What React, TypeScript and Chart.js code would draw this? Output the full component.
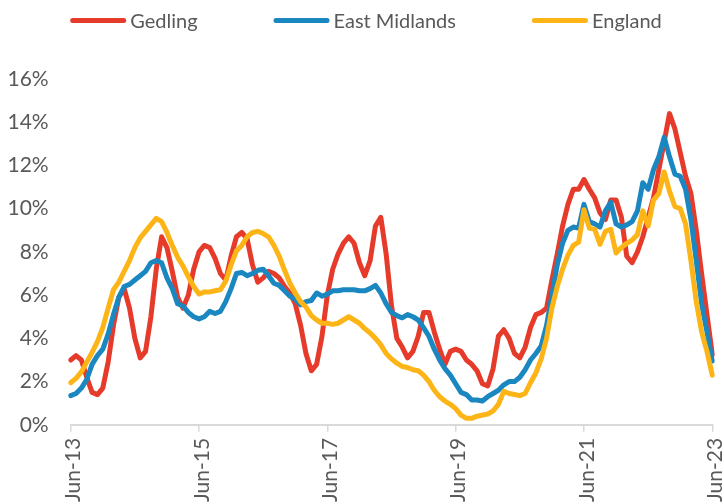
import React, { useEffect, useRef } from 'react';
import { Chart, registerables } from 'chart.js';

Chart.register(...registerables);

// ---- Data -------------------------------------------------------------
const MONTH_NAMES = ['Jan', 'Feb', 'Mar', 'Apr', 'May', 'Jun', 'Jul', 'Aug', 'Sep', 'Oct', 'Nov', 'Dec'];
const FIRST_YEAR = 2013;
const FIRST_MONTH = 5; // June
const MONTH_COUNT = 121; // Jun-13 .. Jun-23
const LABEL_EVERY = 24;

const categories: string[] = Array.from({ length: MONTH_COUNT }, (_, i) => {
  const m = (FIRST_MONTH + i) % 12;
  const y = FIRST_YEAR + Math.floor((FIRST_MONTH + i) / 12);
  return `${MONTH_NAMES[m]}-${String(y % 100).padStart(2, '0')}`;
});

const gedling = [
  3.0, 3.2, 3.0, 2.2, 1.5, 1.4, 1.7, 2.9, 4.6, 5.9, 6.3, 5.4,
  4.0, 3.1, 3.4, 5.0, 7.2, 8.7, 8.2, 7.1, 5.9, 5.4, 6.0, 7.2,
  8.0, 8.3, 8.2, 7.7, 7.0, 6.7, 7.8, 8.7, 8.9, 8.6, 7.4, 6.6,
  6.8, 7.1, 7.0, 6.8, 6.4, 6.1, 5.6, 4.6, 3.3, 2.5, 2.8, 4.1,
  6.0, 7.2, 7.9, 8.4, 8.7, 8.4, 7.5, 6.9, 7.6, 9.2, 9.6, 7.9,
  5.5, 4.0, 3.6, 3.1, 3.4, 4.1, 5.2, 5.2, 4.3, 3.5, 2.8, 3.4,
  3.5, 3.4, 3.0, 2.8, 2.5, 1.9, 1.8, 2.6, 4.1, 4.4, 4.0, 3.3,
  3.1, 3.6, 4.5, 5.1, 5.2, 5.4, 6.7, 7.9, 9.2, 10.2, 10.9, 10.9,
  11.35, 10.9, 10.5, 9.8, 9.5, 10.4, 10.4, 9.6, 7.8, 7.5, 8.0, 8.7,
  9.6, 10.5, 11.8, 13.1, 14.4, 13.7, 12.6, 11.5, 10.7, 9.0, 7.0, 5.1,
  3.25,
];

const eastMidlands = [
  1.35, 1.45, 1.7, 2.1, 2.8, 3.2, 3.5, 4.2, 5.1, 5.9, 6.4, 6.5,
  6.7, 6.9, 7.1, 7.5, 7.6, 7.5, 6.8, 6.3, 5.6, 5.5, 5.2, 5.0,
  4.9, 5.0, 5.25, 5.15, 5.25, 5.7, 6.3, 7.0, 7.05, 6.9, 7.0, 7.15,
  7.2, 6.9, 6.55, 6.45, 6.2, 5.95, 5.8, 5.55, 5.7, 5.75, 6.1, 5.95,
  6.05, 6.2, 6.2, 6.25, 6.25, 6.25, 6.2, 6.2, 6.3, 6.45, 6.1, 5.6,
  5.2, 5.05, 4.95, 5.1, 5.0, 4.85, 4.5, 4.1, 3.5, 3.0, 2.6, 2.3,
  1.9, 1.5, 1.4, 1.15, 1.15, 1.1, 1.3, 1.45, 1.6, 1.85, 2.0, 2.0,
  2.2, 2.55, 3.0, 3.3, 3.65, 4.6, 6.0, 7.4, 8.4, 9.0, 9.15, 9.1,
  10.2, 9.4, 9.3, 9.15, 9.9, 10.3, 9.3, 9.15, 9.25, 9.4, 9.9, 11.2,
  10.9, 11.8, 12.4, 13.3, 12.4, 11.6, 11.5, 10.9, 9.5, 7.6, 5.6, 4.3,
  2.95,
];

const england = [
  1.95, 2.15, 2.45, 2.9, 3.35, 3.85, 4.5, 5.4, 6.25, 6.6, 7.1, 7.6,
  8.2, 8.65, 8.95, 9.25, 9.55, 9.4, 8.9, 8.3, 7.75, 7.35, 6.85, 6.4,
  6.05, 6.15, 6.15, 6.2, 6.25, 6.65, 7.4, 8.05, 8.3, 8.7, 8.9, 8.95,
  8.85, 8.7, 8.3, 7.8, 7.15, 6.55, 6.1, 5.7, 5.45, 5.05, 4.85, 4.7,
  4.7, 4.65, 4.7, 4.85, 5.0, 4.85, 4.7, 4.45, 4.25, 4.0, 3.7, 3.3,
  3.05, 2.85, 2.7, 2.65, 2.55, 2.5, 2.3, 2.0, 1.6, 1.3, 1.1, 0.95,
  0.75, 0.45, 0.3, 0.3, 0.4, 0.45, 0.5, 0.65, 0.95, 1.55, 1.45, 1.4,
  1.35, 1.45, 1.95, 2.4, 3.05, 4.0, 5.4, 6.4, 7.2, 7.85, 8.3, 8.45,
  9.95, 9.1, 9.05, 8.35, 8.95, 9.05, 7.95, 8.2, 8.4, 8.55, 8.8, 9.9,
  9.2, 10.4, 10.7, 11.7, 10.8, 10.1, 10.0, 9.3, 7.6, 5.7, 4.3, 3.4,
  2.3,
];

const seriesNames = ['Gedling', 'East Midlands', 'England'];
const seriesColors = ['#E63A2B', '#1B87C0', '#FCB416'];
const Y_MIN = 0;
const Y_MAX = 16;
const Y_STEP = 2;

// ---- Styles -----------------------------------------------------------
const FONT_FAMILY = 'Lato, "Noto Sans", sans-serif';
const TEXT_COLOR = '#595959';
const AXIS_COLOR = '#D9D9D9';

// Custom legend: long rounded line markers, wide spacing (Excel-like)
const legendPlugin = {
  id: 'excelLegend',
  afterDraw(chart: any) {
    const ctx = chart.ctx as CanvasRenderingContext2D;
    const datasets = chart.data.datasets;
    const lineLen = 51;
    const lineW = 5;
    const textGap = 4;
    const itemGap = 76;
    const fontSize = 20;
    const cy = 20.5;
    ctx.save();
    ctx.font = `${fontSize}px ${FONT_FAMILY}`;
    const widths = datasets.map(
      (d: any) => lineW + lineLen + textGap + ctx.measureText(d.label).width
    );
    const total = widths.reduce((a: number, b: number) => a + b, 0) + itemGap * (datasets.length - 1);
    let x = (chart.width - total) / 2 + 4;
    datasets.forEach((d: any, i: number) => {
      ctx.strokeStyle = d.borderColor;
      ctx.lineWidth = lineW;
      ctx.lineCap = 'round';
      ctx.beginPath();
      ctx.moveTo(x + lineW / 2, cy);
      ctx.lineTo(x + lineW / 2 + lineLen, cy);
      ctx.stroke();
      ctx.fillStyle = TEXT_COLOR;
      ctx.textBaseline = 'middle';
      ctx.textAlign = 'left';
      ctx.fillText(d.label, x + lineLen + lineW + textGap, cy + 1);
      x += widths[i] + itemGap;
    });
    ctx.restore();
  },
};

export default function App() {
  const canvasRef = useRef<HTMLCanvasElement | null>(null);

  useEffect(() => {
    if (!canvasRef.current) return;
    const seriesData = [gedling, eastMidlands, england];
    const chart = new Chart(canvasRef.current, {
      type: 'line',
      data: {
        labels: categories,
        datasets: seriesNames.map((name, i) => ({
          label: name,
          data: seriesData[i],
          borderColor: seriesColors[i],
          backgroundColor: seriesColors[i],
          borderWidth: 5,
          pointRadius: 0,
          pointHoverRadius: 0,
          tension: 0,
          borderCapStyle: 'round' as const,
          borderJoinStyle: 'round' as const,
          order: seriesNames.length - i,
        })),
      },
      options: {
        animation: false,
        responsive: true,
        maintainAspectRatio: false,
        layout: { padding: { top: 79, left: 8, right: 0, bottom: 4 } },
        plugins: {
          legend: { display: false },
          tooltip: { enabled: false },
        },
        scales: {
          x: {
            type: 'category',
            offset: false,
            afterBuildTicks: (scale: any) => {
              scale.ticks = scale.ticks.filter((t: any) => t.value % LABEL_EVERY === 0);
            },
            afterFit: (scale: any) => {
              scale.paddingLeft = 0;
              scale.paddingRight = 11.7;
            },
            ticks: {
              autoSkip: false,
              minRotation: 90,
              maxRotation: 90,
              padding: 6,
              labelOffset: 3,
              color: TEXT_COLOR,
              font: { family: FONT_FAMILY, size: 21 },
              callback: function (this: any, value: any) {
                return this.getLabelForValue(value);
              },
            },
            grid: {
              display: true,
              drawOnChartArea: false,
              drawTicks: true,
              tickLength: 7,
              color: AXIS_COLOR,
              lineWidth: 1.5,
            },
            border: { display: true, color: AXIS_COLOR, width: 2 },
          },
          y: {
            min: Y_MIN,
            max: Y_MAX,
            afterFit: (scale: any) => {
              scale.paddingTop = 0;
              scale.width = 62.7;
            },
            ticks: {
              stepSize: Y_STEP,
              padding: 22,
              color: TEXT_COLOR,
              font: { family: FONT_FAMILY, size: 21 },
              callback: (v: any) => `${v}%`,
            },
            grid: { display: false, drawTicks: false },
            border: { display: false },
          },
        },
      },
      plugins: [legendPlugin],
    });
    return () => chart.destroy();
  }, []);

  return (
    <div style={{ position: 'absolute', left: 0, top: 0, width: 724, height: 504, overflow: 'hidden', background: '#fff' }}>
      <div style={{ position: 'relative', width: 724, height: 512 }}>
        <canvas ref={canvasRef} />
      </div>
    </div>
  );
}
